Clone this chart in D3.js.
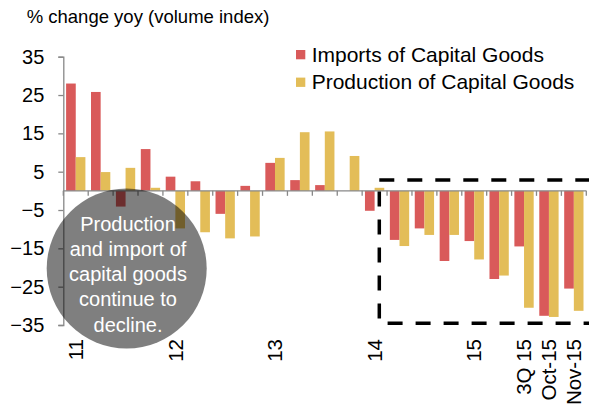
<!DOCTYPE html>
<html>
<head>
<meta charset="utf-8">
<script src="https://cdn.jsdelivr.net/npm/d3@7"></script>
<style>
  body { margin: 0; background: #fff; }
  svg { display: block; font-family: "Liberation Sans", Arial, sans-serif; }
</style>
</head>
<body>
<div id="chart"></div>
<script>
const categories = [
  "1Q11", "2Q11", "3Q11", "4Q11",
  "1Q12", "2Q12", "3Q12", "4Q12",
  "1Q13", "2Q13", "3Q13", "4Q13",
  "1Q14", "2Q14", "3Q14", "4Q14",
  "1Q15", "2Q15", "3Q15", "Oct-15", "Nov-15"
];
const imports = [28, 25.8, -4.1, 10.9, 3.7, 2.5, -6.0, 1.3, 7.3, 2.8, 1.5, 0, -5.2, -12.8, -9.8, -18.3, -13.1, -23.0, -14.5, -32.6, -25.5];
const production = [8.8, 4.9, 6.0, 0.8, -9.8, -10.8, -12.4, -11.9, 8.6, 15.3, 15.5, 9.1, 0.8, -14.4, -11.5, -11.5, -17.9, -22.1, -30.5, -32.9, -31.3];
const tickLabels = { "1Q11": "11", "1Q12": "12", "1Q13": "13", "1Q14": "14", "1Q15": "15", "3Q15": "3Q 15", "Oct-15": "Oct-15", "Nov-15": "Nov-15" };
const yTicks = [35, 25, 15, 5, -5, -15, -25, -35];
const seriesNames = ["Imports of Capital Goods", "Production of Capital Goods"];
const colors = ["#d95a5a", "#e3bd58"];
const noteLines = ["Production", "and import of", "capital goods", "continue to", "decline."];

const width = 589, height = 408;
const svg = d3.select("#chart").append("svg")
  .attr("width", width)
  .attr("height", height);

const x = d3.scaleBand().domain(categories).range([63.3, 586.3]).padding(0);
const xs = d3.scaleBand().domain([0, 1]).range([0, x.bandwidth()]).paddingInner(0).paddingOuter(0.29);
const y = d3.scaleLinear().domain([-35, 35]).range([325, 56.7]);

const rows = categories.map((c, i) => ({ c, v: [imports[i], production[i]] }));

// bars
const groups = svg.append("g").selectAll("g")
  .data(rows)
  .join("g")
  .attr("transform", d => `translate(${x(d.c)},0)`);

groups.selectAll("rect")
  .data(d => d.v.map((v, k) => ({ v, k })))
  .join("rect")
  .attr("x", d => xs(d.k))
  .attr("width", xs.bandwidth())
  .attr("y", d => y(Math.max(0, d.v)))
  .attr("height", d => Math.abs(y(d.v) - y(0)))
  .attr("fill", d => colors[d.k]);

// y axis
const yAxis = svg.append("g")
  .attr("transform", "translate(63.3,0)")
  .call(d3.axisLeft(y).tickValues(yTicks).tickSize(5).tickPadding(14).tickFormat(d3.format("d")));
yAxis.select(".domain").attr("stroke", "#888").attr("stroke-width", 1.3);
yAxis.selectAll(".tick line").attr("stroke", "#888").attr("stroke-width", 1.3);
yAxis.selectAll(".tick text")
  .style("font-size", "20px")
  .style("font-family", "Liberation Sans, Arial, sans-serif")
  .attr("fill", "#000");

// x axis at zero
const xAxisG = svg.append("g").attr("transform", `translate(0,${y(0)})`);
xAxisG.append("line")
  .attr("x1", x.range()[0]).attr("x2", x.range()[1])
  .attr("stroke", "#888").attr("stroke-width", 1.3);
xAxisG.selectAll(".xtick")
  .data(d3.range(categories.length + 1))
  .join("line")
  .attr("class", "xtick")
  .attr("x1", i => x.range()[0] + i * x.step())
  .attr("x2", i => x.range()[0] + i * x.step())
  .attr("y1", 0).attr("y2", 5)
  .attr("stroke", "#888").attr("stroke-width", 1.3);

// rotated category labels
svg.append("g").selectAll("text")
  .data(categories.filter(c => tickLabels[c]))
  .join("text")
  .attr("transform", c => `translate(${x(c) + x.bandwidth() / 2},339) rotate(-90)`)
  .attr("text-anchor", "end")
  .attr("dy", "0.35em")
  .style("font-size", "20.5px")
  .attr("fill", "#000")
  .text(c => tickLabels[c]);

// title
svg.append("text")
  .attr("x", 26.7)
  .attr("y", 22.7)
  .style("font-size", "18.5px")
  .attr("fill", "#000")
  .text("% change yoy (volume index)");

// legend
const legend = svg.append("g").selectAll("g")
  .data(seriesNames)
  .join("g")
  .attr("transform", (d, i) => `translate(296,${50 + i * 27.6})`);
legend.append("rect")
  .attr("width", 9.3).attr("height", 9.3)
  .attr("fill", (d, i) => colors[i]);
legend.append("text")
  .attr("x", 15.7)
  .attr("y", 11.7)
  .style("font-size", "21px")
  .attr("fill", "#000")
  .text(d => d);

// dashed highlight box
svg.append("rect")
  .attr("x", 379.3)
  .attr("y", 180)
  .attr("width", 220)
  .attr("height", 143.3)
  .attr("fill", "none")
  .attr("stroke", "#000")
  .attr("stroke-width", 3.5)
  .attr("stroke-dasharray", "15,13");

// annotation bubble
svg.append("circle")
  .attr("cx", 126.7)
  .attr("cy", 268.5)
  .attr("r", 80)
  .attr("fill", "#000")
  .attr("fill-opacity", 0.5);

svg.append("g").selectAll("text")
  .data(noteLines)
  .join("text")
  .attr("x", 128)
  .attr("y", (d, i) => 230.7 + i * 25.25)
  .attr("text-anchor", "middle")
  .style("font-size", "20px")
  .attr("fill", "#fff")
  .text(d => d);
</script>
</body>
</html>
